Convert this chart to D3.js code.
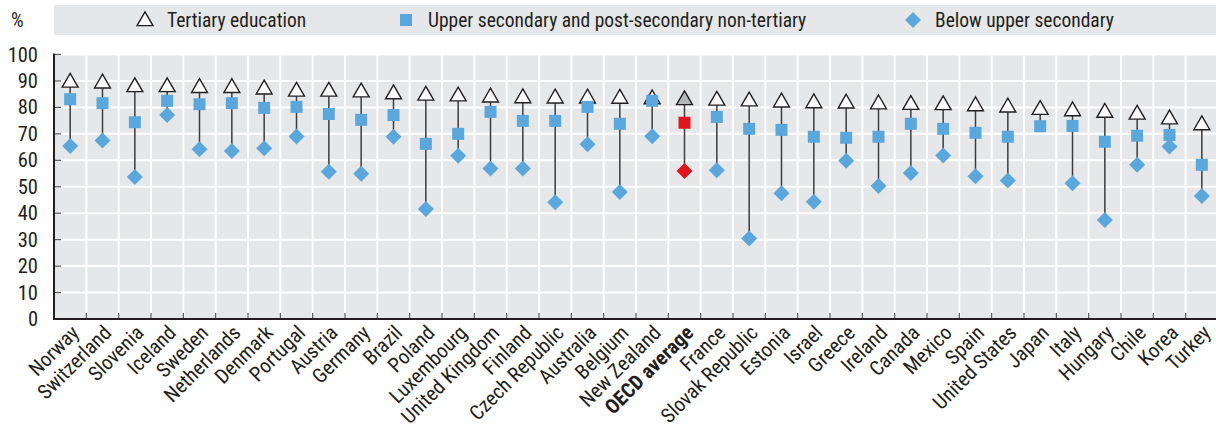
<!DOCTYPE html>
<html>
<head>
<meta charset="utf-8">
<script src="https://cdn.jsdelivr.net/npm/d3@7"></script>
<style>
body { margin:0; background:#fff; }
svg text { font-family: "Liberation Sans Narrow", "Arial Narrow", "Roboto Condensed", sans-serif; fill:#231f20; }
</style>
</head>
<body>
<div class="canvas"></div>
<script>
// data
const countries = ['Norway','Switzerland','Slovenia','Iceland','Sweden','Netherlands','Denmark','Portugal','Austria','Germany','Brazil','Poland','Luxembourg','United Kingdom','Finland','Czech Republic','Australia','Belgium','New Zealand','OECD average','France','Slovak Republic','Estonia','Israel','Greece','Ireland','Canada','Mexico','Spain','United States','Japan','Italy','Hungary','Chile','Korea','Turkey'];
const tertiary = [89.4,89.1,87.7,87.7,87.4,87.4,86.8,86.0,86.0,85.7,85.0,84.5,84.2,83.8,83.5,83.4,83.4,83.3,83.1,82.8,82.6,82.3,81.9,81.6,81.5,81.2,81.0,80.9,80.5,80.0,79.1,78.6,78.0,77.3,75.5,73.3];
const upperSec = [83.1,81.6,74.4,82.5,81.2,81.6,79.8,80.2,77.5,75.3,77.1,66.2,70.0,78.3,74.9,74.9,80.2,73.8,82.5,74.2,76.4,71.9,71.5,68.9,68.5,68.9,73.8,71.9,70.4,68.9,72.9,73.0,67.0,69.3,69.6,58.3];
const belowSec = [65.4,67.5,53.7,77.1,64.2,63.5,64.6,69.0,55.7,54.9,68.9,41.6,61.7,56.9,56.9,44.1,66.1,48.0,69.1,56.0,56.2,30.4,47.5,44.3,59.8,50.3,55.2,61.8,54.0,52.4,null,51.3,37.4,58.3,65.2,46.5];
const yTicks = [0,10,20,30,40,50,60,70,80,90,100];
const seriesNames = ['Tertiary education','Upper secondary and post-secondary non-tertiary','Below upper secondary'];
const avgName = 'OECD average';

const W = 1216, H = 426;
const blue = '#5aa7dd', red = '#e2141e', dark = '#231f20', bg = '#e6e7e8';

const svg = d3.select('.canvas').append('svg')
    .attr('width', W)
    .attr('height', H);

const data = countries.map((c,i) => ({name:c, t:tertiary[i], u:upperSec[i], b:belowSec[i]}));

//scales
const x = d3.scaleBand().domain(countries).range([54, 1218]);
const y = d3.scaleLinear().domain([0,100]).range([319, 54.5]);

//legend box
svg.append('rect').attr('x',54).attr('y',5).attr('width',W-54).attr('height',30).attr('fill',bg);
const legendX = [145, 406, 913];
const tri = d3.symbol().type(d3.symbolTriangle).size(110);
const sq = d3.symbol().type(d3.symbolSquare).size(144);
const dia = d3.symbol().type(d3.symbolSquare).size(128);
svg.append('path').attr('d',tri()).attr('transform',`translate(${legendX[0]},21)`)
    .attr('fill','#fff').attr('stroke',dark).attr('stroke-width',1.4);
svg.append('path').attr('d',sq()).attr('transform',`translate(${legendX[1]},20)`).attr('fill',blue);
svg.append('path').attr('d',dia()).attr('transform',`translate(${legendX[2]},20) rotate(45)`).attr('fill',blue);
seriesNames.forEach((s,i)=>{
  svg.append('text').attr('x',legendX[i]+22).attr('y',20).attr('dy','0.35em')
    .style('font-size','19.5px').text(s);
});

//plot background
svg.append('rect').attr('x',54).attr('y',y(100)).attr('width',W-54).attr('height',y(0)-y(100)).attr('fill',bg);

//grid
const grid = svg.append('g');
grid.selectAll('line.h').data(yTicks.slice(1)).enter().append('line')
    .attr('x1',54).attr('x2',W).attr('y1',d=>y(d)).attr('y2',d=>y(d))
    .attr('stroke','#fff').attr('stroke-width',2);
grid.selectAll('line.v').data(countries.slice(1)).enter().append('line')
    .attr('x1',d=>x(d)).attr('x2',d=>x(d)).attr('y1',y(100)).attr('y2',y(0))
    .attr('stroke','#fff').attr('stroke-width',2);

//axes
const xAxis = d3.axisBottom(x).tickSize(0).tickPadding(0);
const xAxisGroup = svg.append('g').attr('transform',`translate(0,${y(0)})`).call(xAxis);
xAxisGroup.select('.domain').remove();
xAxisGroup.selectAll('text')
    .attr('transform','translate(5,10) rotate(-45)')
    .attr('text-anchor','end')
    .attr('dy','0.35em')
    .style('font-size','20.5px')
    .style('font-weight',d=>d===avgName?'bold':'normal');

const yAxis = d3.axisLeft(y).tickValues(yTicks).tickSize(0).tickPadding(16);
const yAxisGroup = svg.append('g').attr('transform','translate(54,0)').call(yAxis);
yAxisGroup.select('.domain').remove();
yAxisGroup.selectAll('text').style('font-size','20.5px');

// inner ticks
svg.append('g').selectAll('line').data(yTicks.slice(1)).enter().append('line')
    .attr('x1',54).attr('x2',61).attr('y1',d=>y(d)).attr('y2',d=>y(d))
    .attr('stroke','#555').attr('stroke-width',1.2);
svg.append('g').selectAll('line').data(countries.slice(1)).enter().append('line')
    .attr('x1',d=>x(d)).attr('x2',d=>x(d)).attr('y1',y(0)).attr('y2',y(0)-6)
    .attr('stroke','#555').attr('stroke-width',1.2);

svg.append('line').attr('x1',54).attr('x2',W).attr('y1',y(0)).attr('y2',y(0)).attr('stroke',dark).attr('stroke-width',2);
svg.append('line').attr('x1',54).attr('x2',54).attr('y1',y(100)-1).attr('y2',y(0)+1).attr('stroke',dark).attr('stroke-width',2);

svg.append('text').attr('x',11).attr('y',20).attr('dy','0.35em').style('font-size','20px').text('%');

//stems
const cx = d => x(d.name) + x.bandwidth()/2;
svg.append('g').selectAll('line').data(data).enter().append('line')
    .attr('x1',cx).attr('x2',cx)
    .attr('y1',d=>y(d.t))
    .attr('y2',d=>y(d3.min([d.u,d.b].filter(v=>v!=null))))
    .attr('stroke','#3c3c3c').attr('stroke-width',1.5);

//markers
svg.append('g').selectAll('path').data(data).enter().append('path')
    .attr('d',tri())
    .attr('transform',d=>`translate(${cx(d)},${y(d.t)})`)
    .attr('fill',d=>d.name===avgName?'#b5b6b8':'#fff')
    .attr('stroke',dark).attr('stroke-width',1.4);
svg.append('g').selectAll('path').data(data.filter(d=>d.b!=null)).enter().append('path')
    .attr('d',dia())
    .attr('transform',d=>`translate(${cx(d)},${y(d.b)}) rotate(45)`)
    .attr('fill',d=>d.name===avgName?red:blue);
svg.append('g').selectAll('path').data(data).enter().append('path')
    .attr('d',sq())
    .attr('transform',d=>`translate(${cx(d)},${y(d.u)})`)
    .attr('fill',d=>d.name===avgName?red:blue);
</script>
</body>
</html>
